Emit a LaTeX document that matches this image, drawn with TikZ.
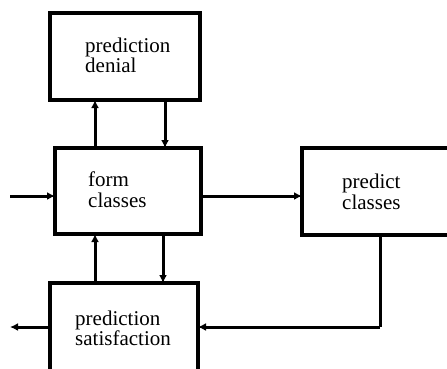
\documentclass[tikz,border=0pt]{standalone}
\usepackage{fontspec}
\setmainfont{Liberation Serif}
\usetikzlibrary{arrows.meta}
\begin{document}
\begin{tikzpicture}[x=1pt,y=-1pt,
  box/.style={draw,line width=3.4pt,rectangle,inner sep=0pt,outer sep=0pt},
  lbl/.style={anchor=base west,inner sep=0pt,font=\fontsize{21}{20.5}\selectfont},
  arr/.style={line width=3pt,-{Latex[length=8pt,width=8pt]}},
  wire/.style={line width=3pt}]
\path[use as bounding box,clip] (0,0) rectangle (447,368);
\fill[white] (0,0) rectangle (447,368);

% boxes
\node[box,minimum width=150pt,minimum height=87pt] (denial) at (125,56.5) {};
\node[box,minimum width=146pt,minimum height=86pt] (form) at (128,191) {};
\node[box,minimum width=168pt,minimum height=87pt] (predict) at (386,191.5) {};
\node[box,minimum width=148pt,minimum height=117pt] (satis) at (124,341.5) {};

% labels
\newcommand{\twolines}[2]{\begin{tabular}[t]{@{}l@{}}#1\\#2\end{tabular}}
\node[lbl] (tdenial) at (85,52) {\twolines{prediction}{denial}};
\node[lbl] (tform) at (88,186.5) {\twolines{form}{classes}};
\node[lbl] (tpredict) at (342,188.5) {\twolines{predict}{classes}};
\node[lbl] (tsatis) at (75,325) {\twolines{prediction}{satisfaction}};

% helper points
\coordinate (in) at (10,196);
\coordinate (out) at (10,327);
\coordinate (upx) at (95,0);
\coordinate (dnA) at (165,0);
\coordinate (dnB) at (163,0);
\coordinate (fb) at (380,327);

% connectors
\draw[arr] (in) -- (in -| form.west);
\draw[arr] (form.east |- in) -- (predict.west |- in);
\draw[arr] (form.north -| upx) -- (denial.south -| upx);
\draw[arr] (denial.south -| dnA) -- (form.north -| dnA);
\draw[arr] (satis.north -| upx) -- (form.south -| upx);
\draw[arr] (form.south -| dnB) -- (satis.north -| dnB);
\draw[wire] (predict.south -| fb) -- (fb);
\draw[arr] (fb) -- (satis.east |- fb);
\draw[arr] (satis.west |- out) -- (out);
\end{tikzpicture}
\end{document}
